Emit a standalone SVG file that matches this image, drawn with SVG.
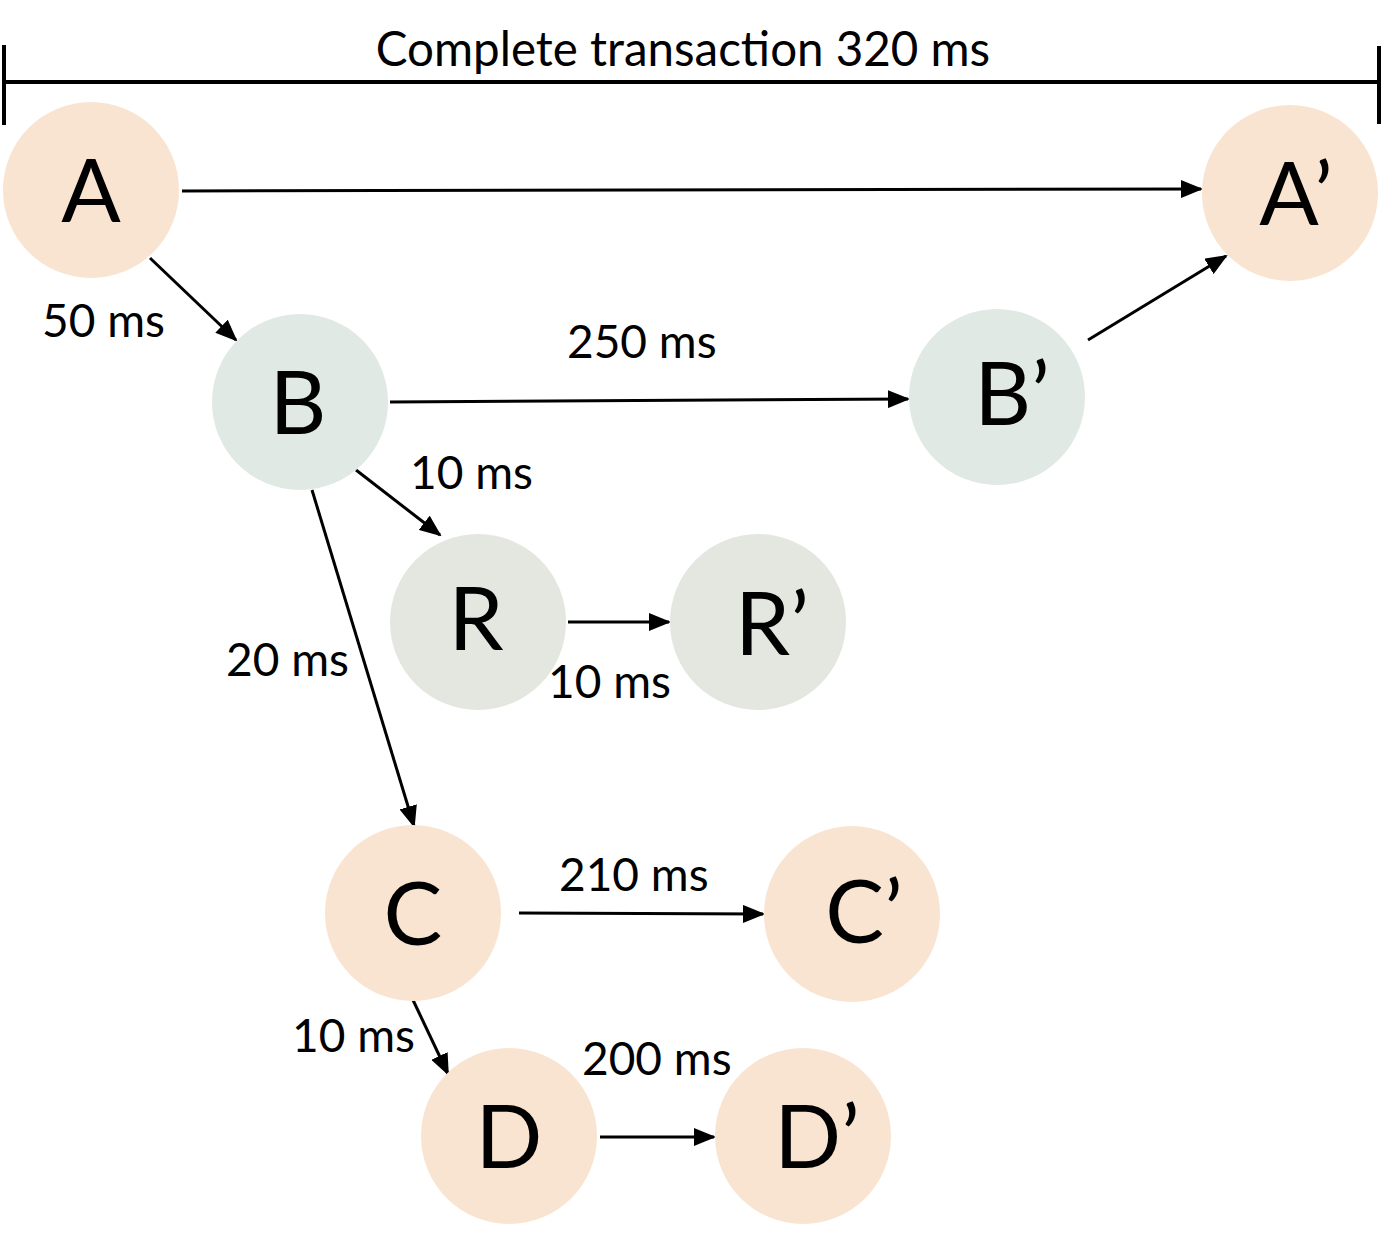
<svg xmlns="http://www.w3.org/2000/svg" width="1400" height="1258" viewBox="0 0 1400 1258">
<style>
.peach{fill:#F9E4D1}
.gray{fill:#E0E9E4}
.rnode{fill:#E4E7DF}
.big{font-family:Lato,"Open Sans",sans-serif;font-size:88px;fill:#000;text-anchor:middle}
.lbl{font-family:Lato,"Open Sans",sans-serif;font-size:46px;fill:#000}
.c{stroke:#000;stroke-width:3;fill:none;marker-end:url(#ah)}
</style>
<defs>
<marker id="ah" markerUnits="userSpaceOnUse" markerWidth="22" markerHeight="18" refX="20" refY="9" orient="auto">
<path d="M0,0 L22,9 L0,18 Z" fill="#000"/>
</marker>
</defs>
<g id="timeline">
<line x1="5" y1="82" x2="1379" y2="82" stroke="#000" stroke-width="4"/>
<line x1="4" y1="45" x2="4" y2="125" stroke="#000" stroke-width="4"/>
<line x1="1379" y1="46" x2="1379" y2="124" stroke="#000" stroke-width="4"/>
<text x="683" y="66" class="lbl" text-anchor="middle" style="font-size:47.5px">Complete transaction 320 ms</text>
</g>
<g id="connectors">
<line class="c" x1="182" y1="191" x2="1201" y2="189"/>
<line class="c" x1="150" y1="258" x2="236" y2="340"/>
<line class="c" x1="390" y1="402" x2="908" y2="399"/>
<line class="c" x1="1088" y1="340" x2="1226" y2="256"/>
<line class="c" x1="356" y1="470" x2="440" y2="535"/>
<line class="c" x1="312" y1="490" x2="414" y2="826"/>
<line class="c" x1="568" y1="622" x2="669" y2="622"/>
<line class="c" x1="519" y1="913" x2="763" y2="914"/>
<line class="c" x1="413" y1="1000" x2="448" y2="1074"/>
<line class="c" x1="600" y1="1137" x2="714" y2="1137"/>
</g>
<g id="labels">
<text class="lbl" x="42" y="337">50 ms</text>
<text class="lbl" x="567" y="358">250 ms</text>
<text class="lbl" x="410" y="489">10 ms</text>
<text class="lbl" x="226" y="676">20 ms</text>
<text class="lbl" x="548" y="698">10 ms</text>
<text class="lbl" x="559" y="891">210 ms</text>
<text class="lbl" x="292" y="1052">10 ms</text>
<text class="lbl" x="582" y="1075">200 ms</text>
</g>
<g id="node-A"><circle class="peach" cx="91" cy="190" r="88"/><text class="big" x="91" y="222">A</text></g>
<g id="node-A2"><circle class="peach" cx="1290" cy="193" r="88"/><text class="big" x="1296" y="225">A’</text></g>
<g id="node-B"><circle class="gray" cx="300" cy="402" r="88"/><text class="big" x="298" y="434">B</text></g>
<g id="node-B2"><circle class="gray" cx="997" cy="397" r="88"/><text class="big" x="1012" y="425">B’</text></g>
<g id="node-R"><circle class="rnode" cx="478" cy="622" r="88"/><text class="big" x="476" y="650">R</text></g>
<g id="node-R2"><circle class="rnode" cx="758" cy="622" r="88"/><text class="big" x="772" y="655">R’</text></g>
<g id="node-C"><circle class="peach" cx="413" cy="913" r="88"/><text class="big" x="413" y="945">C</text></g>
<g id="node-C2"><circle class="peach" cx="852" cy="914" r="88"/><text class="big" x="864" y="943">C’</text></g>
<g id="node-D"><circle class="peach" cx="509" cy="1136" r="88"/><text class="big" x="509" y="1168">D</text></g>
<g id="node-D2"><circle class="peach" cx="803" cy="1136" r="88"/><text class="big" x="817" y="1168">D’</text></g>
</svg>
